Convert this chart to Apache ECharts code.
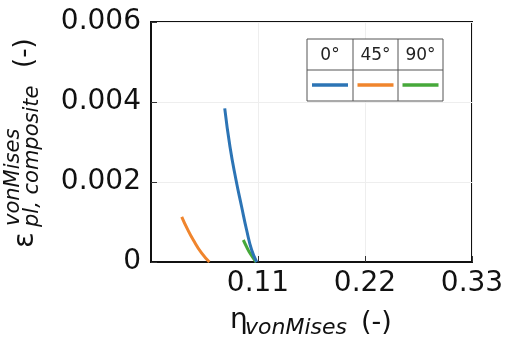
<!DOCTYPE html>
<html><head><meta charset="utf-8">
<script src="https://cdn.jsdelivr.net/npm/echarts@6/dist/echarts.min.js"></script>
<style>html,body{margin:0;padding:0;background:#fff}#c{width:509px;height:342px}</style>
</head><body><div id="c"></div>
<script>
const seriesNames = ['0°', '45°', '90°'];
const seriesColors = ['#2c74b5', '#f0852d', '#46a83a'];
const data0 = [[0.0758,0.00384],[0.0812,0.00288],[0.0874,0.00205],[0.093,0.0014],[0.0983,0.0008],[0.1035,0.0003],[0.1087,0]];
const data45 = [[0.0316,0.00113],[0.0375,0.00082],[0.0435,0.00055],[0.0521,0.00022],[0.0600,0]];
const data90 = [[0.0949,0.00055],[0.0985,0.00037],[0.1018,0.00022],[0.108,0]];
const xTicks = [0.11, 0.22, 0.33];
const yTicks = [0, 0.002, 0.004, 0.006];

const chart = echarts.init(document.getElementById('c'));
const F = 'DejaVu Sans';
const gl = {left:151, top:22, width:321, height:240};
const tbl = {x:307, y:39, w:136, h:62, cols:[307,353,398,443], mid:70};
const graphics = [
  {type:'rect', shape:{x:tbl.x,y:tbl.y,width:tbl.w,height:tbl.h}, style:{fill:'#fff',stroke:'#555',lineWidth:1}, z:100},
  {type:'line', shape:{x1:tbl.x,y1:tbl.mid,x2:tbl.x+tbl.w,y2:tbl.mid}, style:{stroke:'#555',lineWidth:1}, z:101},
  {type:'line', shape:{x1:tbl.cols[1],y1:tbl.y,x2:tbl.cols[1],y2:tbl.y+tbl.h}, style:{stroke:'#555',lineWidth:1}, z:101},
  {type:'line', shape:{x1:tbl.cols[2],y1:tbl.y,x2:tbl.cols[2],y2:tbl.y+tbl.h}, style:{stroke:'#555',lineWidth:1}, z:101}
];
seriesNames.forEach((n,i)=>{
  const cx = (tbl.cols[i]+tbl.cols[i+1])/2;
  graphics.push({type:'text', x:cx, y:(tbl.y+tbl.mid)/2+1, style:{text:n, font:'17px "'+F+'"', fill:'#222', align:'center', verticalAlign:'middle'}, z:102});
  graphics.push({type:'line', shape:{x1:cx-18,y1:85,x2:cx+18,y2:85}, style:{stroke:seriesColors[i],lineWidth:3.5}, z:102});
});
// y-axis title (rotated)
graphics.push({type:'group', x:25, y:248, rotation:Math.PI/2, children:[
  {type:'text', x:0, y:0, style:{text:'ε', font:'29px "'+F+'"', fill:'#111', verticalAlign:'middle'}},
  {type:'text', x:21, y:8, style:{text:'pl, composite', font:'italic 21px "'+F+'"', fill:'#111', verticalAlign:'middle'}},
  {type:'text', x:22, y:-11, style:{text:'vonMises', font:'italic 21px "'+F+'"', fill:'#111', verticalAlign:'middle'}},
  {type:'text', x:180, y:0, style:{text:'(-)', font:'26px "'+F+'"', fill:'#111', verticalAlign:'middle'}}
]});
// x-axis title
graphics.push({type:'text', x:230, y:321, style:{text:'η', font:'28px "'+F+'"', fill:'#111', verticalAlign:'middle'}});
graphics.push({type:'text', x:245, y:328, style:{text:'vonMises', font:'italic 22px "'+F+'"', fill:'#111', verticalAlign:'middle'}});
graphics.push({type:'text', x:361, y:323, style:{text:'(-)', font:'27px "'+F+'"', fill:'#111', verticalAlign:'middle'}});

chart.setOption({
  animation:false,
  grid:{...gl, show:true, borderColor:'#111', borderWidth:2, backgroundColor:'transparent'},
  xAxis:{type:'value', min:0, max:0.33, interval:0.11,
    axisLine:{show:true, lineStyle:{color:'#111', width:2}},
    axisTick:{show:true, inside:true, length:6, lineStyle:{color:'#333'}},
    splitLine:{show:true, lineStyle:{color:'#eee'}},
    axisLabel:{fontFamily:F, fontSize:28, color:'#111', margin:8, showMinLabel:false,
      formatter:v=> xTicks.some(t=>Math.abs(t-v)<1e-9) ? v.toFixed(2) : ''}},
  yAxis:{type:'value', min:0, max:0.006, interval:0.002,
    axisLine:{show:true, lineStyle:{color:'#111', width:2}},
    axisTick:{show:true, inside:true, length:6, lineStyle:{color:'#333'}},
    splitLine:{show:true, lineStyle:{color:'#eee'}},
    axisLabel:{fontFamily:F, fontSize:28, color:'#111', margin:10,
      formatter:v=> { const t = yTicks.find(t=>Math.abs(t-v)<1e-12); return t===undefined?'':(t===0?'0':t.toFixed(3)); }}},
  series:[
    {name:seriesNames[0], type:'line', data:data0, smooth:true, showSymbol:false, lineStyle:{color:seriesColors[0], width:3}, z:3},
    {name:seriesNames[1], type:'line', data:data45, smooth:true, showSymbol:false, lineStyle:{color:seriesColors[1], width:3}, z:2},
    {name:seriesNames[2], type:'line', data:data90, smooth:true, showSymbol:false, lineStyle:{color:seriesColors[2], width:3}, z:2}
  ],
  graphic:graphics
});
</script></body></html>
